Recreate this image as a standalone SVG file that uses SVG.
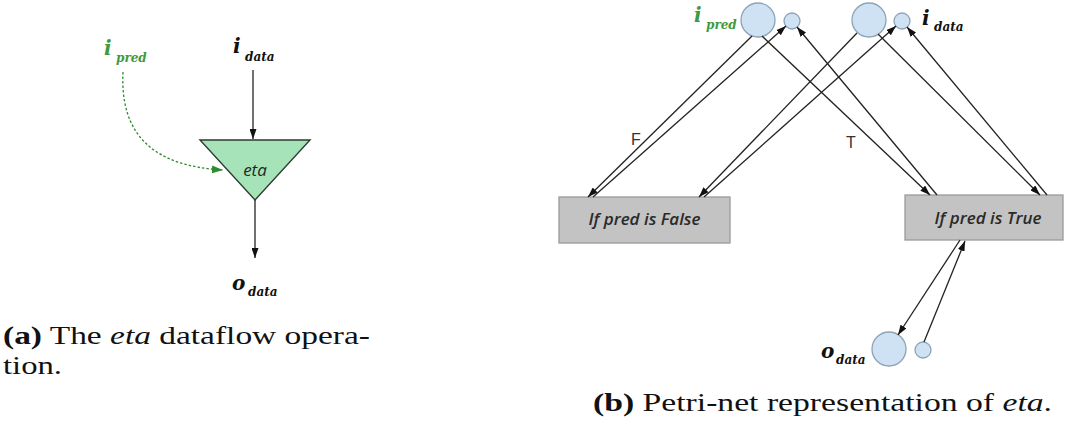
<svg xmlns="http://www.w3.org/2000/svg" width="1069" height="425" viewBox="0 0 1069 425">
<style>
.lbl{font-family:"DejaVu Serif",serif;font-weight:bold;font-style:italic;fill:#111}
.grn{fill:#3d9a3d}
.cap{font-family:"Liberation Serif",serif;font-size:26px;fill:#111}
.arc{stroke:#222;stroke-width:1.3;fill:none}
.place{fill:#cfe2f3;stroke:#8ea3b8;stroke-width:1.3}
.trans{fill:#c3c3c3;stroke:#9a9a9a;stroke-width:1.3}
.ttxt{font-family:"Open Sans",sans-serif;font-style:italic;font-weight:600;font-size:17px;fill:#2a2a2a;text-anchor:middle}
.fl{font-family:"Liberation Sans",sans-serif;font-size:16px;fill:#333}
</style>
<defs>
<marker id="ah" markerWidth="10" markerHeight="7" refX="10" refY="3.5" orient="auto" markerUnits="userSpaceOnUse">
<path d="M0,0 L10,3.5 L0,7 z" fill="#111"/>
</marker>
<marker id="ahg" markerWidth="11" markerHeight="8" refX="11" refY="4" orient="auto" markerUnits="userSpaceOnUse">
<path d="M0,0 L11,4 L0,8 z" fill="#2e8b2e"/>
</marker>
</defs>

<!-- Left panel: eta dataflow operation -->
<g id="ipred-left">
<text class="lbl grn" x="104" y="55" font-size="20">i</text>
<text class="lbl grn" x="116" y="62" font-size="12">pred</text>
</g>
<g id="idata-left">
<text class="lbl" x="233" y="53" font-size="20">i</text>
<text class="lbl" x="245" y="61" font-size="12">data</text>
</g>
<g id="eta-node">
<polygon points="200,140 310,140 255,200" fill="#a6e3b9" stroke="#2b3b2f" stroke-width="1.4"/>
<text x="255" y="176" font-family="Open Sans, sans-serif" font-style="italic" font-size="17" fill="#1f2a22" text-anchor="middle">eta</text>
</g>
<g id="odata-left">
<text class="lbl" x="232" y="290" font-size="20">o</text>
<text class="lbl" x="248" y="296" font-size="12">data</text>
</g>

<!-- Right panel: Petri net -->
<g id="place-ipred">
<text class="lbl grn" x="694" y="22" font-size="20">i</text>
<text class="lbl grn" x="706" y="29" font-size="12">pred</text>
<circle class="place" cx="758" cy="20" r="17"/>
</g>
<g id="ack-ipred"><circle class="place" cx="792" cy="21" r="8"/></g>
<g id="place-idata">
<circle class="place" cx="869" cy="20" r="17"/>
</g>
<g id="ack-idata">
<circle class="place" cx="902" cy="21" r="8"/>
<text class="lbl" x="922" y="25" font-size="20">i</text>
<text class="lbl" x="934" y="31" font-size="12">data</text>
</g>
<g id="trans-false">
<rect class="trans" x="559" y="197" width="171" height="46"/>
<text class="ttxt" x="644.5" y="225">If pred is False</text>
</g>
<g id="trans-true">
<rect class="trans" x="905" y="195" width="158" height="45"/>
<text class="ttxt" x="988" y="224">If pred is True</text>
</g>
<g id="place-odata">
<text class="lbl" x="821" y="358" font-size="20">o</text>
<text class="lbl" x="836" y="364" font-size="12">data</text>
<circle class="place" cx="889" cy="349" r="17"/>
</g>
<g id="ack-odata"><circle class="place" cx="923" cy="350" r="8"/></g>

<g id="connectors">
<line class="arc" x1="253" y1="70" x2="253" y2="139" marker-end="url(#ah)"/>
<line class="arc" x1="255" y1="200" x2="255" y2="258" marker-end="url(#ah)"/>
<path d="M123,72 C120,132 150,166 223,170" fill="none" stroke="#2e8b2e" stroke-width="1.3" stroke-dasharray="2.5,2" marker-end="url(#ahg)"/>

<line class="arc" x1="752" y1="36" x2="588" y2="197" marker-end="url(#ah)"/>
<line class="arc" x1="593" y1="197" x2="786" y2="26" marker-end="url(#ah)"/>
<line class="arc" x1="857" y1="33" x2="699" y2="197" marker-end="url(#ah)"/>
<line class="arc" x1="704" y1="197" x2="896" y2="26" marker-end="url(#ah)"/>
<line class="arc" x1="762" y1="36" x2="930" y2="195" marker-end="url(#ah)"/>
<line class="arc" x1="937" y1="195" x2="797" y2="27" marker-end="url(#ah)"/>
<line class="arc" x1="878" y1="34" x2="1040" y2="195" marker-end="url(#ah)"/>
<line class="arc" x1="1047" y1="195" x2="907" y2="27" marker-end="url(#ah)"/>
<line class="arc" x1="960" y1="240" x2="898" y2="335" marker-end="url(#ah)"/>
<line class="arc" x1="924" y1="342" x2="965" y2="241" marker-end="url(#ah)"/>
<text class="fl" x="631" y="145">F</text>
<text class="fl" x="846" y="148">T</text>
</g>

<g id="captions">
<text class="cap" x="3" y="344" textLength="367" lengthAdjust="spacingAndGlyphs"><tspan font-weight="bold">(a)</tspan> The <tspan font-style="italic">eta</tspan> dataflow opera-</text>
<text class="cap" x="3" y="374" textLength="59" lengthAdjust="spacingAndGlyphs">tion.</text>
<text class="cap" x="593" y="411" textLength="459" lengthAdjust="spacingAndGlyphs"><tspan font-weight="bold">(b)</tspan> Petri-net representation of <tspan font-style="italic">eta</tspan>.</text>
</g>
</svg>
